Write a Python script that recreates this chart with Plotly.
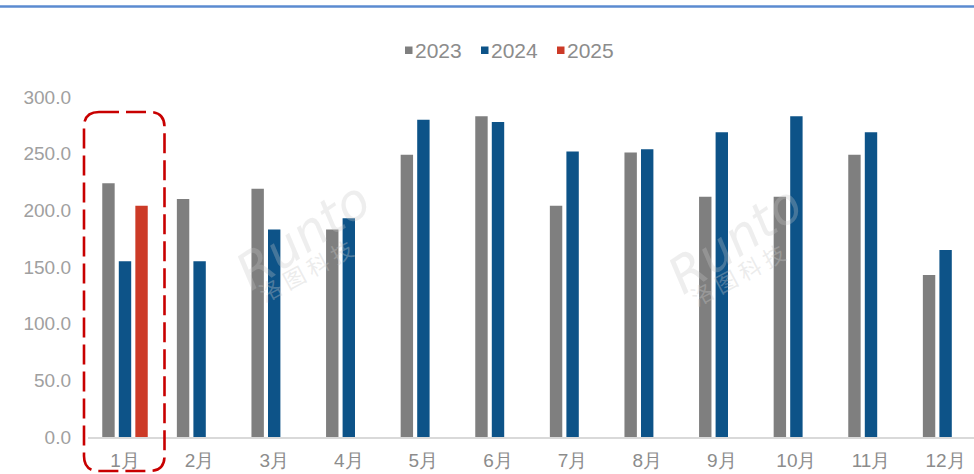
import plotly.graph_objects as go

months = ["1月", "2月", "3月", "4月", "5月", "6月", "7月", "8月", "9月", "10月", "11月", "12月"]
s2023 = [224, 210, 219, 183, 249, 283, 204, 251, 212, 212, 249, 143]
s2024 = [155, 155, 183, 193, 280, 278, 252, 254, 269, 283, 269, 165]
s2025 = [204, None, None, None, None, None, None, None, None, None, None, None]
series_names = ["2023", "2024", "2025"]
colors = ["#7f7f7f", "#0d5388", "#cc3a27"]
yticks = [0, 50, 100, 150, 200, 250, 300]

W, H = 974, 474
ML, MR, MT, MB = 88, 0, 97, 37
PW, PH = W - ML - MR, H - MT - MB


def px(x):
    return (x - ML) / PW


def py(y):
    return (H - MB - y) / PH


fig = go.Figure()
for name, vals, col in zip(series_names, [s2023, s2024, s2025], colors):
    fig.add_trace(go.Bar(x=months, y=vals, name=name, marker=dict(color=col, line=dict(width=0)),
                         showlegend=False))

font_family = "Liberation Sans, Arial, sans-serif"

# rounded dashed highlight box (pixel geometry -> paper)
x0, x1, y0, y1, r = 84, 164.5, 112, 471, 15
rx, ry = r / PW, r / PH
X0, X1, Y0, Y1 = px(x0), px(x1), py(y1), py(y0)
path = (f"M{X0 + rx},{Y1} L{X1 - rx},{Y1} Q{X1},{Y1} {X1},{Y1 - ry} "
        f"L{X1},{Y0 + ry} Q{X1},{Y0} {X1 - rx},{Y0} L{X0 + rx},{Y0} "
        f"Q{X0},{Y0} {X0},{Y0 + ry} L{X0},{Y1 - ry} Q{X0},{Y1} {X0 + rx},{Y1} Z")
shapes = [
    dict(type="path", xref="paper", yref="paper", path=path,
         line=dict(color="#c80000", width=2.6, dash="20px,7px"), fillcolor="rgba(0,0,0,0)"),
    dict(type="line", xref="paper", yref="paper", x0=px(0), x1=px(W), y0=py(6.5), y1=py(6.5),
         line=dict(color="#5b8bd0", width=2.5)),
]

# legend (custom, to match compact spacing)
annotations = []
legend_x = [405, 481, 557]
for name, col, lx in zip(series_names, colors, legend_x):
    shapes.append(dict(type="rect", xref="paper", yref="paper",
                       x0=px(lx), x1=px(lx + 7.5), y0=py(54), y1=py(46.5),
                       fillcolor=col, line=dict(width=0)))
    annotations.append(dict(xref="paper", yref="paper", x=px(lx + 8), y=py(50.5), text=name,
                            showarrow=False, xanchor="left", yanchor="middle",
                            font=dict(family=font_family, size=21, color="#8c8c8c")))

# watermarks
for cx, cy, cx2, cy2 in [(303, 236, 305, 270), (735, 240, 737, 274)]:
    annotations.append(dict(xref="paper", yref="paper", x=px(cx), y=py(cy), text="<i>Runto</i>",
                            showarrow=False, textangle=-34, xanchor="center", yanchor="middle",
                            font=dict(family="DejaVu Sans, sans-serif", size=50,
                                      color="rgba(200,200,200,0.3)")))
    annotations.append(dict(xref="paper", yref="paper", x=px(cx2), y=py(cy2), text="洛 图 科 技",
                            showarrow=False, textangle=-28, xanchor="center", yanchor="middle",
                            font=dict(family="Noto Sans CJK SC", size=22,
                                      color="rgba(200,200,200,0.35)")))

fig.update_layout(
    width=W, height=H,
    margin=dict(l=ML, r=MR, t=MT, b=MB, pad=0),
    paper_bgcolor="white", plot_bgcolor="white",
    barmode="group", bargap=0.335, bargroupgap=0.25,
    shapes=shapes, annotations=annotations,
    showlegend=False,
    font=dict(family=font_family),
    xaxis=dict(type="category", range=[-0.496, (W - 125) / 74.6],
               showline=True, linecolor="#d9d9d9", linewidth=1.5,
               showgrid=False, ticks="", ticklabelstandoff=5,
               tickfont=dict(family=font_family, size=19, color="#8c8c8c")),
    yaxis=dict(range=[0, 300], tickvals=yticks, ticktext=[f"{v:.1f}" for v in yticks],
               showgrid=False, zeroline=False, showline=False, ticks="",
               ticklabelstandoff=16,
               tickfont=dict(family=font_family, size=19, color="#a0a0a0")),
)

fig.write_html("out.html", config={"displayModeBar": False},
               post_script="document.body.style.margin='0';document.body.style.overflow='hidden';")
